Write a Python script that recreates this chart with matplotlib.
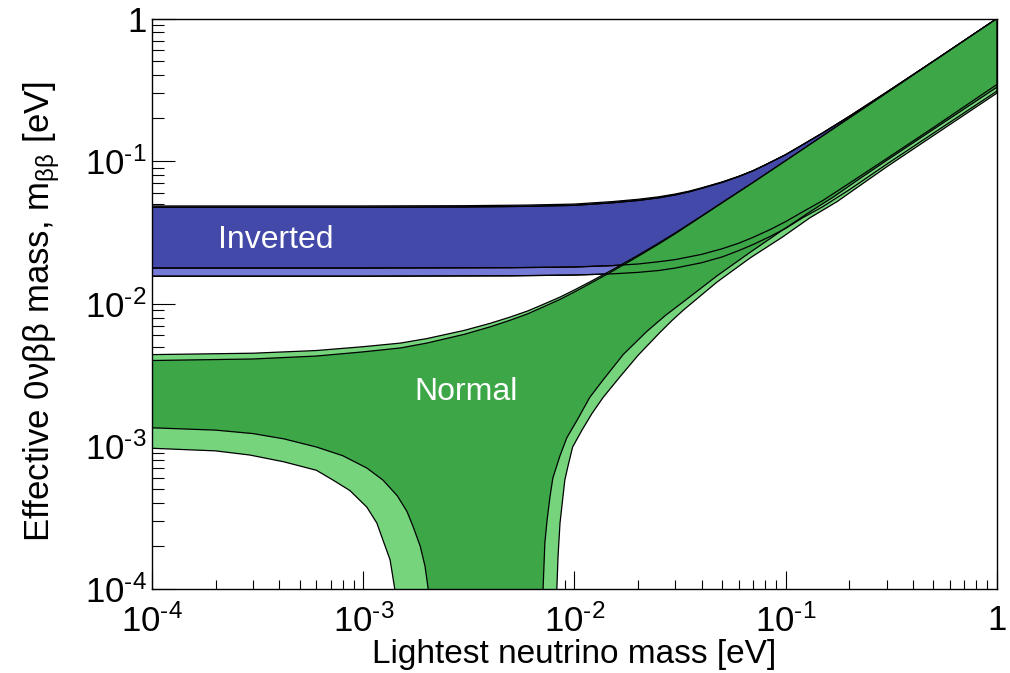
import numpy as np
import matplotlib
matplotlib.use("Agg")
import matplotlib.pyplot as plt
from matplotlib.ticker import FixedLocator, LogLocator, NullFormatter, FixedFormatter

plt.rcParams["font.family"] = ["Liberation Sans", "DejaVu Sans"]
plt.rcParams["mathtext.fontset"] = "custom"
plt.rcParams["mathtext.rm"] = "Liberation Sans"
plt.rcParams["mathtext.it"] = "Liberation Sans:italic"

# Inverted ordering: upper edge (dark / light band)
ih_up_x = [1e-4, 1e-3, 3e-3, 6e-3, 1e-2, 1.5e-2, 2e-2, 2.5e-2, 3e-2, 3.5e-2, 4e-2, 5e-2, 6e-2,
           7e-2, 8e-2, 0.1, 0.12, 0.15, 0.2, 0.3, 0.5, 1.0]
ih_up_dark = [0.0475, 0.0475, 0.0477, 0.0482, 0.049, 0.051, 0.053, 0.0553, 0.058, 0.061, 0.0645,
              0.071, 0.078, 0.0855, 0.094, 0.111, 0.130, 0.158, 0.206, 0.304, 0.502, 1.0]
ih_up_light = [0.0485, 0.0485, 0.0487, 0.0492, 0.050, 0.052, 0.054, 0.0562, 0.0588, 0.0617, 0.065,
               0.0715, 0.0784, 0.0858, 0.0943, 0.1112, 0.1302, 0.1582, 0.206, 0.304, 0.502, 1.0]

# Inverted ordering: lower edge
ih_lo_x = [1e-4, 1e-3, 5e-3, 1e-2, 1.5e-2, 2e-2, 2.5e-2, 3e-2, 4e-2, 5e-2, 6e-2, 7e-2, 8.5e-2,
           0.1, 0.12, 0.15, 0.2, 0.3, 0.5, 1.0]
ih_lo_dark = [0.0178, 0.0178, 0.0179, 0.0181, 0.0185, 0.0190, 0.0197, 0.0204, 0.0222, 0.0243,
              0.0266, 0.0292, 0.0333, 0.0377, 0.0440, 0.0530, 0.0700, 0.1040, 0.1720, 0.345]
ih_lo_light = [0.0156, 0.0156, 0.0157, 0.0159, 0.0162, 0.0166, 0.0171, 0.0178, 0.0194, 0.0213,
               0.0236, 0.0260, 0.0298, 0.0338, 0.0400, 0.0480, 0.0630, 0.0950, 0.1570, 0.31]

# Normal ordering: upper edge
nh_up_x = [1e-4, 3e-4, 6e-4, 1e-3, 1.5e-3, 2e-3, 3e-3, 4e-3, 5e-3, 6e-3, 7e-3, 8.5e-3, 1e-2,
           1.2e-2, 1.5e-2, 2e-2, 2.5e-2, 3e-2, 4e-2, 5e-2, 7e-2, 0.1, 0.15, 0.2, 0.3, 0.5, 1.0]
nh_up_dark = [0.0040, 0.0041, 0.0043, 0.0046, 0.0049, 0.0053, 0.0061, 0.0069, 0.0077, 0.0085,
              0.0094, 0.0107, 0.0121, 0.0140, 0.0168, 0.0215, 0.0262, 0.0310, 0.0410, 0.0510,
              0.0707, 0.1006, 0.1505, 0.2004, 0.3003, 0.5002, 1.0]
nh_up_light = [0.0044, 0.0045, 0.0047, 0.0050, 0.0053, 0.0057, 0.0065, 0.0073, 0.0081, 0.0089,
               0.0098, 0.0111, 0.0125, 0.0144, 0.0172, 0.0219, 0.0266, 0.0314, 0.0413, 0.0513,
               0.0709, 0.1008, 0.1506, 0.2005, 0.3003, 0.5002, 1.0]

# Normal ordering: lower edge, left branch (falls to zero) and right branch
nh_lo_dark_lx = [1e-4, 2e-4, 3e-4, 4.2e-4, 6e-4, 8e-4, 1.04e-3, 1.24e-3, 1.45e-3, 1.61e-3,
                 1.72e-3, 1.86e-3, 1.96e-3, 2.03e-3]
nh_lo_dark_ly = [0.00135, 0.00130, 0.00123, 0.00113, 0.00099, 0.00086, 0.000705, 0.00058,
                 0.00045, 0.00035, 0.000275, 0.00020, 0.000145, 1.0e-4]
nh_lo_dark_rx = [7.1e-3, 7.24e-3, 7.41e-3, 7.65e-3, 7.9e-3, 8.54e-3, 9.2e-3, 1.03e-2, 1.18e-2,
                 1.36e-2, 1.7e-2, 2.2e-2, 2.7e-2, 3.27e-2, 4.73e-2, 6.8e-2, 9.7e-2, 0.13, 0.168,
                 0.22, 0.3, 0.5, 1.0]
nh_lo_dark_ry = [1.0e-4, 2.1e-4, 3.0e-4, 4.4e-4, 6.0e-4, 8.6e-4, 1.15e-3, 1.53e-3, 2.2e-3,
                 2.9e-3, 4.4e-3, 6.4e-3, 8.3e-3, 0.0103, 0.0157, 0.0230, 0.0330, 0.044, 0.056,
                 0.074, 0.101, 0.167, 0.33]

nh_lo_light_lx = [1e-4, 2e-4, 2.9e-4, 4.2e-4, 6e-4, 7.2e-4, 8.65e-4, 1.04e-3, 1.16e-3, 1.24e-3,
                  1.34e-3, 1.41e-3]
nh_lo_light_ly = [0.00097, 0.00093, 0.00087, 0.00078, 0.00068, 0.00058, 0.00049, 0.000375,
                  0.00029, 0.00022, 0.00016, 1.0e-4]
nh_lo_light_rx = [8.25e-3, 8.36e-3, 8.54e-3, 9.0e-3, 9.3e-3, 9.8e-3, 1.085e-2, 1.21e-2, 1.365e-2,
                  1.64e-2, 2.0e-2, 2.54e-2, 2.9e-2, 3.27e-2, 4.73e-2, 6.8e-2, 9.7e-2, 0.13, 0.175,
                  0.22, 0.3, 0.5, 1.0]
nh_lo_light_ry = [1.0e-4, 1.7e-4, 2.9e-4, 5.8e-4, 7.2e-4, 9.9e-4, 1.3e-3, 1.7e-3, 2.2e-3,
                  3.07e-3, 4.35e-3, 6.3e-3, 7.65e-3, 0.0090, 0.0142, 0.0210, 0.0295, 0.040, 0.052,
                  0.066, 0.091, 0.151, 0.30]

zero_floor = 1e-6  # m_bb can vanish: band reaches below the axis

tick_vals = [1e-4, 1e-3, 1e-2, 1e-1, 1.0]
tick_text = ["$\\mathregular{10^{\u2010 4}}$", "$\\mathregular{10^{\u2010 3}}$",
             "$\\mathregular{10^{\u2010 2}}$", "$\\mathregular{10^{\u2010 1}}$", "1"]

c_blue_dark = "#4349a8"
c_blue_light = "#757ad6"
c_green_dark = "#3da647"
c_green_light = "#76d57c"


def band(ax, ux, uy, lx, ly, color):
    xs = list(ux) + list(lx)[::-1]
    ys = list(uy) + list(ly)[::-1]
    ax.fill(xs, ys, facecolor=color, edgecolor="black", linewidth=0.9,
            joinstyle="round", zorder=2)


def nh_lower(lx, ly, rx, ry):
    xs = list(lx) + [lx[-1], rx[0]] + list(rx)
    ys = list(ly) + [zero_floor, zero_floor] + list(ry)
    return xs, ys


fig = plt.figure(figsize=(10.1, 6.73), dpi=100)
ax = fig.add_axes([0.1505, 0.1248, 0.8366, 0.8477])
ax.set_xscale("log")
ax.set_yscale("log")

band(ax, ih_up_x, ih_up_light, ih_lo_x, ih_lo_light, c_blue_light)
band(ax, ih_up_x, ih_up_dark, ih_lo_x, ih_lo_dark, c_blue_dark)

lx, ly = nh_lower(nh_lo_light_lx, nh_lo_light_ly, nh_lo_light_rx, nh_lo_light_ry)
band(ax, nh_up_x, nh_up_light, lx, ly, c_green_light)
lx, ly = nh_lower(nh_lo_dark_lx, nh_lo_dark_ly, nh_lo_dark_rx, nh_lo_dark_ry)
band(ax, nh_up_x, nh_up_dark, lx, ly, c_green_dark)

# inverted lower edges stay visible over the normal band
ax.plot(ih_lo_x, ih_lo_dark, color="black", linewidth=0.9, zorder=3)
ax.plot(ih_lo_x, ih_lo_light, color="black", linewidth=0.9, zorder=3)
ax.plot(ih_up_x, ih_up_dark, color="black", linewidth=0.9, zorder=3)

ax.text(3.87e-4, 0.028, "Inverted", color="white", fontsize=23, ha="center", va="center", zorder=4)
ax.text(3.06e-3, 2.4e-3, "Normal", color="white", fontsize=23, ha="center", va="center", zorder=4)

ax.set_xlim(1e-4, 1)
ax.set_ylim(1e-4, 1)

for axis in (ax.xaxis, ax.yaxis):
    axis.set_major_locator(FixedLocator(tick_vals))
    axis.set_major_formatter(FixedFormatter(tick_text))
    axis.set_minor_locator(LogLocator(base=10, subs=np.arange(2, 10)))
    axis.set_minor_formatter(NullFormatter())

ax.tick_params(axis="both", which="both", direction="in", top=False, right=False,
               width=0.8, labelsize=25)
ax.tick_params(axis="y", which="major", length=16.5, pad=4)
ax.tick_params(axis="y", which="minor", length=8.5)
ax.tick_params(axis="x", which="major", length=13, pad=11)
ax.tick_params(axis="x", which="minor", length=6.5)

for sp in ax.spines.values():
    sp.set_linewidth(1.0)
    sp.set_zorder(5)

ax.set_xlabel("Lightest neutrino mass [eV]", fontsize=24)
ax.set_ylabel("Effective 0νββ mass, m$_{\\mathregular{ββ}}$ [eV]", fontsize=25)
ax.xaxis.set_label_coords(0.5, -0.088)
ax.yaxis.set_label_coords(-0.106, 0.486)

fig.savefig("out.png", dpi=100)
